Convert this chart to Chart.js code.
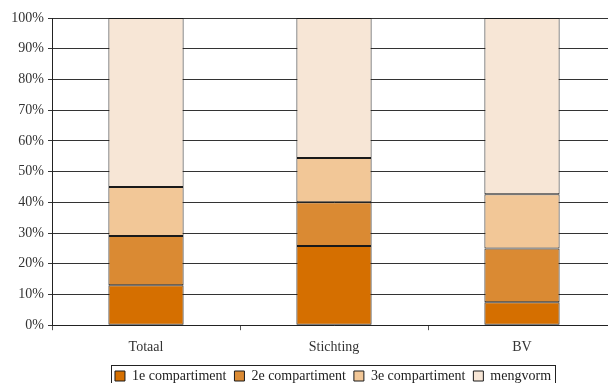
<!DOCTYPE html>
<html>
<head>
<meta charset="utf-8">
<script src="https://cdn.jsdelivr.net/npm/chart.js@4"></script>
<style>
  html, body { margin: 0; padding: 0; background: #fff; overflow: hidden; }
  canvas { display: block; }
</style>
</head>
<body>
<canvas id="mycanvas" width="667" height="393"></canvas>
<script>
var categories = ['Totaal', 'Stichting', 'BV'];
var seriesNames = ['1e compartiment', '2e compartiment', '3e compartiment', 'mengvorm'];
var comp1 = [13, 25.8, 7.5];
var comp2 = [16, 14.2, 17.5];
var comp3 = [16, 14.4, 17.6];
var mengvorm = [55, 45.6, 57.4];
var yTicks = [0, 10, 20, 30, 40, 50, 60, 70, 80, 90, 100];

var colors = ['#d56f00', '#da8a33', '#f2c797', '#f7e6d6'];
var values = [comp1, comp2, comp3, mengvorm];

var datasets = [];
for (var i in seriesNames) {
	datasets.push({
		label: seriesNames[i],
		data: values[i],
		backgroundColor: colors[i],
		borderColor: '#1a1a1a',
		borderWidth: 1,
		borderSkipped: false,
		barPercentage: 0.4,
		categoryPercentage: 1
	});
}

// legend sits off-centre in the original (centred on the full, cropped chart)
// and has a frame around it
var legendBox = {
	id: 'legendBox',
	afterLayout: function(chart) {
		chart.legend.left += 25;
		chart.legend.right += 25;
	},
	afterDraw: function(chart) {
		var boxes = chart.legend.legendHitBoxes;
		if (!boxes || !boxes.length) return;
		var l = boxes[0].left, r = 0, t = boxes[0].top, b = 0;
		boxes.forEach(function(h) {
			l = Math.min(l, h.left); r = Math.max(r, h.left + h.width);
			t = Math.min(t, h.top); b = Math.max(b, h.top + h.height);
		});
		var ctx = chart.ctx;
		ctx.save();
		ctx.strokeStyle = '#222';
		ctx.lineWidth = 1;
		ctx.strokeRect(Math.round(l - 4) + 0.5, Math.round(t - 4) + 0.5, Math.round(r - l + 8), Math.round(b - t + 8));
		ctx.restore();
	}
};

var ctx = document.getElementById('mycanvas');
new Chart(ctx, {
	type: 'bar',
	data: { labels: categories, datasets: datasets },
	plugins: [legendBox],
	options: {
		responsive: false,
		animation: false,
		layout: { padding: { left: 0, top: 18, right: 51, bottom: 0 } },
		plugins: {
			tooltip: { enabled: false },
			legend: {
				display: true,
				position: 'bottom',
				labels: {
					boxWidth: 10,
					boxHeight: 10,
					padding: 8,
					color: '#222',
					font: { family: 'Liberation Serif', size: 14 }
				}
			}
		},
		scales: {
			x: {
				stacked: true,
				afterFit: function(scale) { scale.height -= 4; },
				grid: { offset: true, drawOnChartArea: false, drawTicks: true, tickLength: 5, color: '#555' },
				border: { color: '#222', width: 1 },
				ticks: { padding: 9, color: '#333', font: { family: 'Liberation Serif', size: 14 } }
			},
			y: {
				stacked: true,
				min: 0,
				max: 100,
				afterFit: function(scale) { scale.width = 52; },
				afterBuildTicks: function(scale) {
					scale.ticks = yTicks.map(function(v) { return { value: v }; });
				},
				grid: { color: '#333', lineWidth: 1, tickLength: 4 },
				border: { color: '#222', width: 1 },
				ticks: {
					padding: 4,
					color: '#333',
					font: { family: 'Liberation Serif', size: 14 },
					callback: function(v) { return v + '%'; }
				}
			}
		}
	}
});
</script>
</body>
</html>
